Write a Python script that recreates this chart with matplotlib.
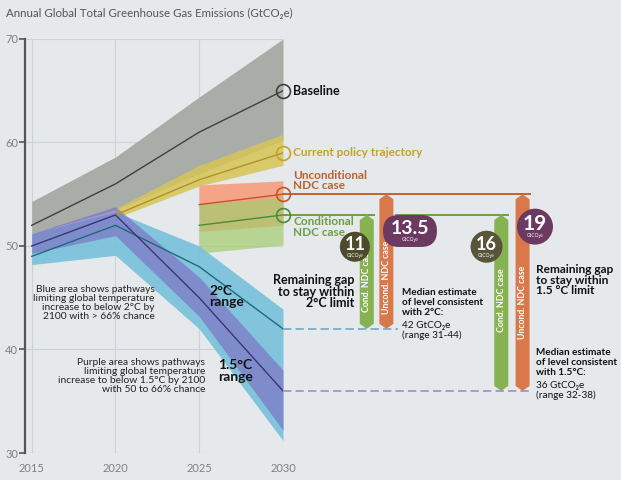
import matplotlib.pyplot as plt
from matplotlib.patches import Polygon, Ellipse, FancyBboxPatch, Rectangle

plt.rcParams['font.family'] = ['Lato', 'DejaVu Sans']

# --- data (GtCO2e) ---
years = [2015, 2020, 2025, 2030]
policy_years = [2020, 2025, 2030]
ndc_years = [2025, 2030]

baseline = [52, 56, 61, 65]
baseline_lo = [51.2, 53.5, 57.0, 60.2]
baseline_hi = [54.3, 58.6, 64.4, 70.0]

policy = [53, 56.4, 59]
policy_lo = [52.7, 55.8, 57.8]
policy_hi = [53.6, 57.8, 60.8]

uncond = [54, 55]
uncond_lo = [51.4, 52.0]
uncond_hi = [55.9, 56.3]

cond = [52, 53]
cond_lo = [49.3, 50.1]
cond_hi = [54.0, 54.7]

two_deg = [49, 52, 48, 42]
two_deg_lo = [48.2, 49.1, 42.0, 31.2]
two_deg_hi = [51.2, 53.3, 50.0, 43.9]

one5 = [50, 53, 45, 36]
one5_lo = [49.3, 51.0, 43.2, 32.2]
one5_hi = [51.2, 53.8, 47.0, 38.0]

gaps = ['11', '13.5', '16', '19']   # cond 2C, uncond 2C, cond 1.5C, uncond 1.5C

BG = '#E5E9EC'
GREY = '#A9ADA7'
YELLOW = '#D6C455'
SALMON = '#F4A587'
GREEN = '#A5CC6E'
BLUE = '#7AC1DA'
PURPLE = '#7C70C4'
ORANGE_BAR = '#D9784A'
GREEN_BAR = '#86B252'

W, H = 621, 480
fig = plt.figure(figsize=(W / 100, H / 100), dpi=100)
fig.patch.set_facecolor(BG)
ax = fig.add_axes([25 / W, 1 - 453 / H, 258 / W, 414 / H])
ax.set_facecolor(BG)
ax.set_xlim(2015 - 6.7 / 16.76, 2030)
ax.set_ylim(30, 70)

# pixels per data unit
ppx = 258 / (2030 - ax.get_xlim()[0])
ppy = 414 / 40.0

ax.set_xticks(years)
ax.set_yticks([30, 40, 50, 60, 70])
ax.grid(color='#CDD2D6', lw=0.8)
ax.set_axisbelow(True)
for s in ['top', 'right', 'bottom']:
    ax.spines[s].set_visible(False)
ax.spines['left'].set_color('#555555')
ax.spines['left'].set_linewidth(1.6)
ax.tick_params(axis='y', length=4, width=1.2, color='#555555', labelcolor='#808080',
               labelsize=8, pad=1)
ax.tick_params(axis='x', length=0, labelcolor='#808080', labelsize=8, pad=7)

# bands
ax.fill_between(years, baseline_lo, baseline_hi, color=GREY, lw=0, zorder=1)
ax.fill_between(policy_years, policy_lo, policy_hi, color=YELLOW, alpha=0.85, lw=0, zorder=2)
ax.fill_between(ndc_years, uncond_lo, uncond_hi, color=SALMON, lw=0, zorder=2)
ax.fill_between(ndc_years, cond_lo, cond_hi, color=GREEN, alpha=0.7, lw=0, zorder=3)
ax.fill_between(years, two_deg_lo, two_deg_hi, color=BLUE, alpha=0.92, lw=0, zorder=4)
ax.fill_between(years, one5_lo, one5_hi, color=PURPLE, alpha=0.66, lw=0, zorder=5)

# median lines
ax.plot(years, baseline, color='#3F403C', lw=1, zorder=6)
ax.plot(policy_years, policy, color='#B0922A', lw=1, zorder=6)
ax.plot(ndc_years, uncond, color='#C4532B', lw=1, zorder=6)
ax.plot(ndc_years, cond, color='#4C8A3A', lw=1, zorder=6)
ax.plot(years, two_deg, color='#1C6B7C', lw=1, zorder=6)
ax.plot(years, one5, color='#3B3575', lw=1, zorder=6)

# end markers
for val, c in [(baseline[-1], '#3F403C'), (policy[-1], '#C9A02A'),
               (uncond[-1], '#C4532B'), (cond[-1], '#4C8A3A')]:
    ax.plot(2030, val, 'o', ms=10, mfc='none', mec=c, mew=1.2, zorder=7, clip_on=False)

# gap arrows
hw = 7 / ppx
tip = 5 / ppy
xg1, xo1, xg2, xo2 = 2035.0, 2036.17, 2043.03, 2044.3


def bar_arrow(xc, top, bottom, color):
    pts = [(xc - hw, top - tip), (xc, top), (xc + hw, top - tip),
           (xc + hw, bottom + tip), (xc, bottom), (xc - hw, bottom + tip)]
    ax.add_patch(Polygon(pts, closed=True, color=color, lw=0, zorder=8, clip_on=False))


# reference lines to the right
ax.plot([2030, xo2 + hw], [uncond[-1]] * 2, color='#C4632B', lw=1.4, clip_on=False, zorder=6)
ax.plot([2030, xg1 + hw], [cond[-1]] * 2, color='#6E9E45', lw=1.4, clip_on=False, zorder=6)
ax.plot([xo1 + hw + 0.15, xg2 + hw], [cond[-1]] * 2, color='#6E9E45', lw=1.4,
        clip_on=False, zorder=6)
ax.plot([2030, xo1 + hw + 0.3], [two_deg[-1]] * 2, color='#6FA8C8', lw=1.2,
        ls=(0, (5, 2.5)), clip_on=False, zorder=6)
ax.plot([2030, xo2 + hw + 0.1], [one5[-1]] * 2, color='#9A90CC', lw=1.2,
        ls=(0, (5, 2.5)), clip_on=False, zorder=6)

bar_arrow(xg1, cond[-1], two_deg[-1], GREEN_BAR)
bar_arrow(xo1, uncond[-1], two_deg[-1], ORANGE_BAR)
bar_arrow(xg2, cond[-1], one5[-1], GREEN_BAR)
bar_arrow(xo2, uncond[-1], one5[-1], ORANGE_BAR)

lab = dict(color='white', fontsize=6.3, fontweight='bold', rotation=90,
           ha='center', va='center', zorder=9)
ax.text(xg1, 46.7, 'Cond. NDC case', **lab)
ax.text(xo1, 47.0, 'Uncond. NDC case', **lab)
ax.text(xg2, 44.8, 'Cond. NDC case', **lab)
ax.text(xo2, 44.6, 'Uncond. NDC case', **lab)


# gap badges
def circle(xc, yc, r_px, color):
    e = Ellipse((xc, yc), 2 * r_px / ppx, 2 * r_px / ppy, color=color, lw=0,
                zorder=10, clip_on=False)
    ax.add_patch(e)
    return e


def badge_text(xc, yc, txt, size):
    ax.text(xc, yc + 2.5 / ppy, txt, color='white', fontsize=size, fontweight='bold',
            ha='center', va='center', zorder=12)
    ax.text(xc, yc - 9 / ppy, 'GtCO\u2082e', color='white', fontsize=3.5,
            ha='center', va='center', zorder=12)


circle(2034.29, 49.93, 15, '#4D4B2C')
badge_text(2034.29, 49.93, gaps[0], 13)

circle(2042.15, 49.93, 16, '#57563A')
badge_text(2042.15, 49.93, gaps[2], 13)

pill_x0, pill_x1, pill_yc, pill_h = 2035.97, 2039.19, 51.45, 32 / ppy
pill = FancyBboxPatch((pill_x0, pill_yc - pill_h / 2), pill_x1 - pill_x0, pill_h,
                      boxstyle='round,pad=0,rounding_size=%.3f' % (16 / ppx),
                      mutation_aspect=ppx / ppy, color='#6C3A60', lw=0, zorder=10,
                      clip_on=False)
ax.add_patch(pill)
dark = Rectangle((xo1 - hw - 0.2, 45), 2 * hw + 0.35, 10, color='#5A2330', lw=0, zorder=11)
ax.add_patch(dark)
dark.set_clip_path(pill)
badge_text((pill_x0 + pill_x1) / 2, pill_yc, gaps[1], 14)

c19 = circle(2045.04, 51.87, 18, '#6C3A60')
dark2 = Rectangle((xo2 - hw - 0.05, 45), 2 * hw + 0.05, 10, color='#5A2330', lw=0, zorder=11)
ax.add_patch(dark2)
dark2.set_clip_path(c19)
badge_text(2045.04, 51.87, gaps[3], 15)

# labels
ax.text(2030.6, baseline[-1], 'Baseline', fontsize=9, fontweight='bold', color='#111111',
        va='center')
ax.text(2030.6, policy[-1], 'Current policy trajectory', fontsize=8.5, fontweight='bold',
        color='#C6A12B', va='center')
ax.text(2030.6, 56.33, 'Unconditional\nNDC case', fontsize=8.5, fontweight='bold',
        color='#B8622E', va='center', linespacing=0.95)
ax.text(2030.6, 51.84, 'Conditional\nNDC case', fontsize=8.5, fontweight='bold',
        color='#6E9E45', va='center', linespacing=0.95)

ax.text(2034.24, 45.56, 'Remaining gap\nto stay within\n2\u00b0C limit', fontsize=9,
        fontweight='bold', ha='right', va='center', linespacing=0.95, color='#111111')
ax.text(2045.1, 46.7, 'Remaining gap\nto stay within\n1.5 \u00b0C limit', fontsize=8.6,
        fontweight='bold', ha='left', va='center', linespacing=0.95, color='#111111')

ax.text(2037.12, 45.9, 'Median estimate\nof level consistent\nwith 2\u00b0C:', fontsize=7.2,
        fontweight='bold', va='top', linespacing=1.1, color='#111111')
ax.text(2037.12, 42.8, '42 GtCO\u2082e\n(range 31-44)', fontsize=7.2, va='top',
        linespacing=1.1, color='#111111')
ax.text(2045.1, 40.1, 'Median estimate\nof level consistent\nwith 1.5\u00b0C:', fontsize=7.2,
        fontweight='bold', va='top', linespacing=1.1, color='#111111')
ax.text(2045.1, 37.0, '36 GtCO\u2082e\n(range 32-38)', fontsize=7.2, va='top',
        linespacing=1.1, color='#111111')

ax.text(2025.6, 45.1, '2\u00b0C\nrange', fontsize=10, fontweight='bold', va='center',
        linespacing=0.95, color='#111111', zorder=9)
ax.text(2026.1, 37.9, '1.5\u00b0C\nrange', fontsize=10, fontweight='bold', va='center',
        linespacing=0.95, color='#111111', zorder=9)

ax.text(2022.35, 44.5, 'Blue area shows pathways\nlimiting global temperature\n'
        'increase to below 2\u00b0C by\n2100 with > 66% chance', fontsize=7.4, ha='right',
        va='center', linespacing=1.0, color='#222222', zorder=9)
ax.text(2025.35, 37.4, 'Purple area shows pathways\nlimiting global temperature\n'
        'increase to below 1.5\u00b0C by 2100\nwith 50 to 66% chance', fontsize=7.4,
        ha='right', va='center', linespacing=1.0, color='#222222', zorder=9)

fig.text(6 / W, 1 - 13 / H, 'Annual Global Total Greenhouse Gas Emissions (GtCO\u2082e)',
         fontsize=8.3, color='#555555', va='center')

fig.savefig('out.png', dpi=100, facecolor=BG)
